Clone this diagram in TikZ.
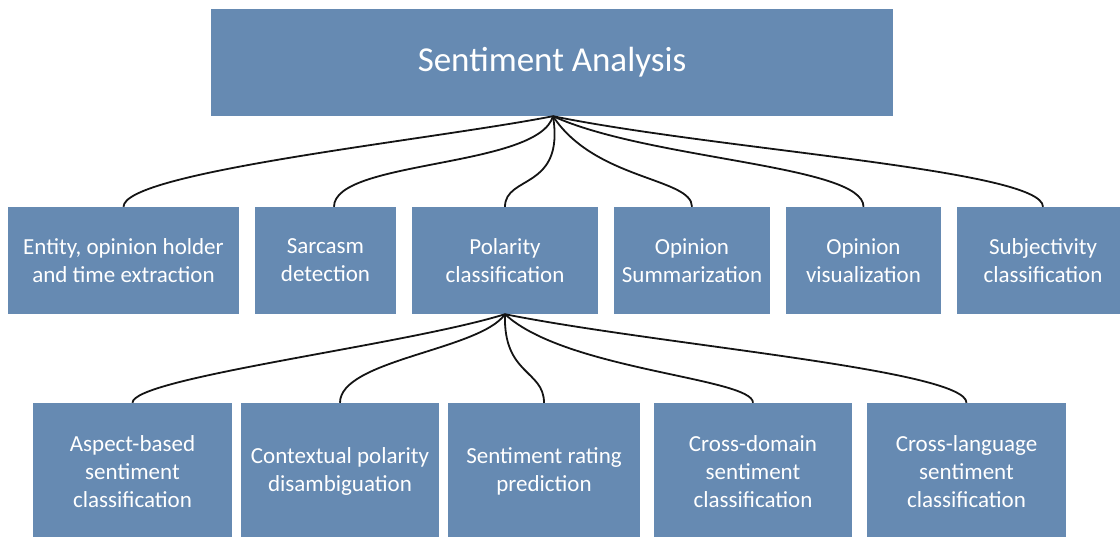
\documentclass[tikz,border=0pt]{standalone}
\usepackage{fontspec}
\setmainfont{Carlito}
\definecolor{boxblue}{RGB}{102,138,178}
\definecolor{linkcol}{RGB}{20,20,20}
\begin{document}
\begin{tikzpicture}[x=1pt,y=-1pt,
  box/.style={fill=boxblue, text=white, inner sep=0pt, align=center,
              font=\fontsize{23}{28}\selectfont},
  titlebox/.style={box, minimum width=682pt, minimum height=107pt,
              font=\fontsize{35}{42}\selectfont},
  midbox/.style={box, minimum height=107pt},
  lowbox/.style={box, minimum height=137pt},
  link/.style={line width=1.8pt, draw=linkcol}]
\useasboundingbox (0,0) rectangle (1120,537);
\clip (0,0) rectangle (1120,537);

% root
\node[titlebox] (root) at (552,62.5) {Sentiment Analysis};

% first level
\node[midbox, minimum width=231pt] (ent)  at (123.5,260.5) {Entity, opinion holder\\and time extraction};
\node[midbox, minimum width=141pt] (sar)  at (325.5,260.5) {Sarcasm\\detection};
\node[midbox, minimum width=186pt] (pol)  at (505,260.5)   {Polarity\\classification};
\node[midbox, minimum width=156pt] (summ) at (692,260.5)   {Opinion\\Summarization};
\node[midbox, minimum width=155pt] (vis)  at (863.5,260.5) {Opinion\\visualization};
\node[midbox, minimum width=172pt] (subj) at (1043,260.5)  {Subjectivity\\classification};

% second level
\node[lowbox, minimum width=199pt] (asp)  at (132.5,471.5) {Aspect-based\\sentiment\\classification};
\node[lowbox, minimum width=198pt] (ctx)  at (340,471.5)   {Contextual polarity\\disambiguation};
\node[lowbox, minimum width=192pt] (rate) at (544,471.5)   {Sentiment rating\\prediction};
\node[lowbox, minimum width=198pt] (cdom) at (753,471.5)   {Cross-domain\\sentiment\\classification};
\node[lowbox, minimum width=199pt] (clan) at (966.5,471.5) {Cross-language\\sentiment\\classification};

% connectors from the root
\draw[link] ([xshift=1pt]root.south) .. controls +(-123,24) and +(0,-35) .. (ent.north);
\draw[link] ([xshift=1pt]root.south) .. controls +(-15,52)  and +(0,-47) .. ([xshift=8.5pt]sar.north);
\draw[link] ([xshift=1pt]root.south) .. controls +(12,74)   and +(0,-32) .. (pol.north);
\draw[link] ([xshift=1pt]root.south) .. controls +(42,64)   and +(0,-29) .. (summ.north);
\draw[link] ([xshift=1pt]root.south) .. controls +(97,44)   and +(0,-42) .. (vis.north);
\draw[link] ([xshift=1pt]root.south) .. controls +(167,34)  and +(0,-37) .. (subj.north);

% connectors from polarity classification
\draw[link] (pol.south) .. controls +(-100,31) and +(0,-25) .. (asp.north);
\draw[link] (pol.south) .. controls +(-25,36)  and +(0,-43) .. (ctx.north);
\draw[link] (pol.south) .. controls +(-2,61)   and +(0,-33) .. (rate.north);
\draw[link] (pol.south) .. controls +(60,56)   and +(0,-25) .. (cdom.north);
\draw[link] (pol.south) .. controls +(155,31)  and +(0,-33) .. (clan.north);
\end{tikzpicture}
\end{document}
